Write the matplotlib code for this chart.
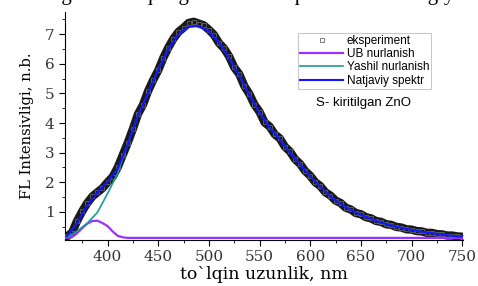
import matplotlib.pyplot as plt
from matplotlib.ticker import MultipleLocator

# experimental spectrum (5 nm step)
exp_wl = list(range(360, 755, 5))
exp_int = [
    0.17, 0.30, 0.70, 1.02, 1.30, 1.52, 1.66, 1.80, 2.00, 2.18,
    2.50, 2.92, 3.34, 3.80, 4.30, 4.62, 5.08, 5.45, 5.78, 6.20,
    6.55, 6.85, 7.08, 7.22, 7.38, 7.42, 7.36, 7.30, 7.15, 6.98,
    6.70, 6.52, 6.25, 5.88, 5.65, 5.25, 4.98, 4.62, 4.38, 4.02,
    3.88, 3.62, 3.48, 3.20, 3.04, 2.78, 2.62, 2.38, 2.22, 2.00,
    1.87, 1.66, 1.55, 1.38, 1.30, 1.14, 1.08, 0.96, 0.92, 0.82,
    0.78, 0.69, 0.66, 0.58, 0.56, 0.49, 0.47, 0.41, 0.40, 0.35,
    0.34, 0.29, 0.29, 0.25, 0.24, 0.20, 0.20, 0.17, 0.16,
]

# UV component
uv_wl = [358, 365, 370, 375, 380, 385, 390, 395, 400, 405, 410, 415, 420, 430, 750]
uv_int = [0.12, 0.15, 0.28, 0.45, 0.60, 0.69, 0.70, 0.62, 0.52, 0.34, 0.19, 0.14, 0.12, 0.12, 0.12]

# green component and total fit (10 nm step)
fit_wl = list(range(360, 760, 10))
green_int = [
    0.14, 0.35, 0.62, 0.98, 1.62, 2.30, 3.30, 4.25, 5.00, 5.80,
    6.50, 7.00, 7.25, 7.28, 7.10, 6.72, 6.20, 5.60, 4.95, 4.35,
    3.85, 3.45, 3.00, 2.60, 2.20, 1.85, 1.52, 1.27, 1.06, 0.90,
    0.76, 0.64, 0.54, 0.46, 0.39, 0.33, 0.28, 0.23, 0.19, 0.16,
]
total_int = [
    0.18, 0.62, 1.22, 1.65, 2.02, 2.45, 3.30, 4.25, 5.00, 5.80,
    6.50, 7.00, 7.25, 7.28, 7.10, 6.72, 6.20, 5.60, 4.95, 4.35,
    3.85, 3.45, 3.00, 2.60, 2.20, 1.85, 1.52, 1.27, 1.06, 0.90,
    0.76, 0.64, 0.54, 0.46, 0.39, 0.33, 0.28, 0.23, 0.19, 0.16,
]

fig = plt.figure(figsize=(4.78, 2.86), dpi=100)
ax = fig.add_axes([0.136, 0.161, 0.833, 0.797])

ax.plot(exp_wl, exp_int, "-", color="#1a1a1a", linewidth=6, solid_capstyle="round", zorder=2)
ax.plot(exp_wl, exp_int, "s", mfc="none", mec="#666666", mew=0.6, ms=3.5, zorder=3, label="eksperiment")
ax.plot(uv_wl, uv_int, color="#9b30ff", linewidth=1.6, zorder=4, label="UB nurlanish")
ax.plot(fit_wl, green_int, color="#1c9a9a", linewidth=1.2, zorder=4, label="Yashil nurlanish")
ax.plot(fit_wl, total_int, color="#1414ff", linewidth=1.5, zorder=5, label="Natjaviy spektr")

ax.set_xlim(358, 751)
ax.set_ylim(0.05, 7.75)
ax.xaxis.set_major_locator(MultipleLocator(50))
ax.xaxis.set_minor_locator(MultipleLocator(25))
ax.set_yticks([1, 2, 3, 4, 5, 6, 7])
ax.yaxis.set_minor_locator(MultipleLocator(0.5))
ax.spines["top"].set_visible(False)
ax.spines["right"].set_visible(False)
ax.tick_params(which="major", direction="out", length=4, width=0.8, labelsize=11)
ax.tick_params(which="minor", direction="out", length=2.5, width=0.6)
for lbl in ax.get_xticklabels() + ax.get_yticklabels():
    lbl.set_family("DejaVu Serif")
    lbl.set_color("#333333")

ax.set_xlabel("to`lqin uzunlik, nm", family="DejaVu Serif", fontsize=12.5, labelpad=1)
ax.set_ylabel("FL Intensivligi, n.b.", family="DejaVu Serif", fontsize=10.6, labelpad=8)

leg = ax.legend(
    loc="upper right",
    bbox_to_anchor=(0.935, 0.935),
    prop={"family": "Liberation Sans", "size": 8.5},
    frameon=True,
    fancybox=False,
    edgecolor="#bbbbbb",
    handlelength=3.6,
    labelspacing=0.1,
    borderpad=0.2,
    handletextpad=0.3,
    markerscale=0.8,
)
leg.get_frame().set_linewidth(0.8)

ax.text(0.75, 0.60, "S- kiritilgan ZnO", transform=ax.transAxes, ha="center", va="center",
        family="Liberation Sans", fontsize=9.5)

# line of document text cut off by the top edge
fig.text(0.5, 1.018, "kiritilganda aniqlangan zonadan qo\u2018shimcha energiya",
         ha="center", va="center", family="Liberation Serif", fontsize=15)

fig.savefig("out.png", dpi=100)
